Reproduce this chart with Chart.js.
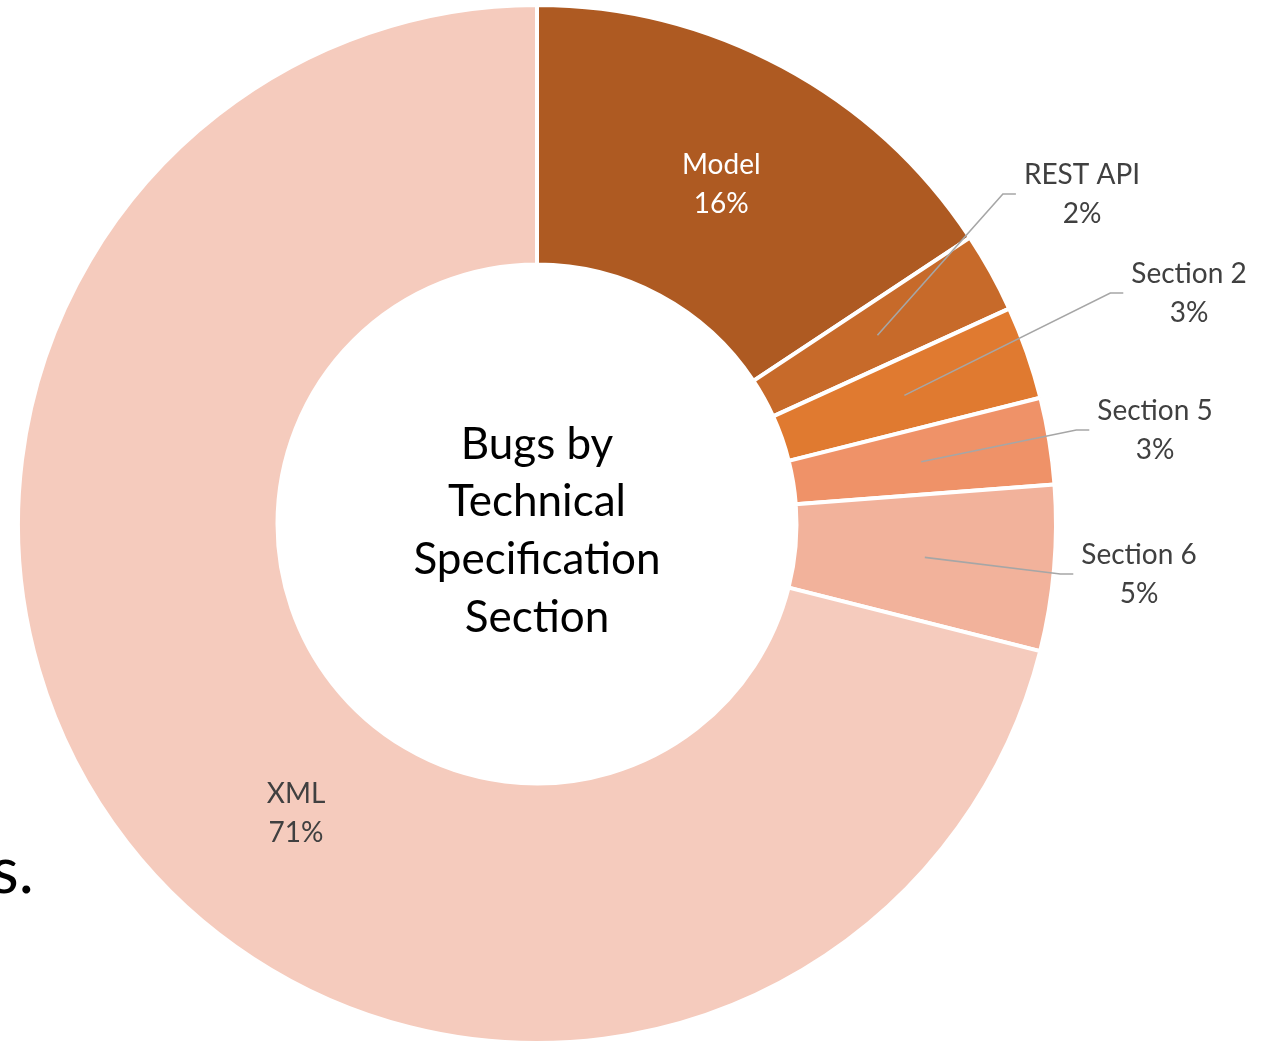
<!DOCTYPE html>
<html>
<head>
<meta charset="utf-8">
<script src="https://cdn.jsdelivr.net/npm/chart.js@4.4.1/dist/chart.umd.min.js"></script>
<style>
  html, body { margin: 0; padding: 0; background: #fff; overflow: hidden; }
  #wrap { position: relative; width: 1271px; height: 1048px; }
  #side { position: absolute; left: -9px; top: 830px; font: 64px Lato, sans-serif; color: #000; }
</style>
</head>
<body>
<div id="wrap">
  <canvas id="chart" width="1271" height="1048"></canvas>
  <div id="side">s.</div>
</div>
<script>
// slice data, clockwise from 12 o'clock
const categories = ['Model', 'REST API', 'Section 2', 'Section 5', 'Section 6', 'XML'];
const shares = [15.7, 2.49, 2.9, 2.7, 5.15, 71.06];
const sliceColors = ['#AE5A22', '#C76A2A', '#E07A30', '#EF9268', '#F2B29B', '#F5CBBD'];
const centerTitle = ['Bugs by', 'Technical', 'Specification', 'Section'];

// label placement, offset from the doughnut centre (null = middle of the ring)
const labelSpots = [
  null,
  { dx: 545, dy: -330, leader: true },
  { dx: 652, dy: -231, leader: true },
  { dx: 618, dy: -94, leader: true },
  { dx: 602, dy: 50, leader: true },
  { dx: -241, dy: 289, leader: false },
];

const LABEL_FONT = '28px Lato, sans-serif';
const TITLE_FONT = '44px Lato, sans-serif';

const sliceLabels = {
  id: 'sliceLabels',
  afterDatasetsDraw(chart) {
    const ctx = chart.ctx;
    const arcs = chart.getDatasetMeta(0).data;
    const total = shares.reduce((a, b) => a + b, 0);
    ctx.save();
    ctx.font = LABEL_FONT;
    ctx.textAlign = 'center';
    ctx.textBaseline = 'middle';

    arcs.forEach((arc, i) => {
      const { x, y, startAngle, endAngle, innerRadius, outerRadius } =
        arc.getProps(['x', 'y', 'startAngle', 'endAngle', 'innerRadius', 'outerRadius'], true);
      const mid = (startAngle + endAngle) / 2;
      const r = (innerRadius + outerRadius) / 2;
      const ax = x + Math.cos(mid) * r;
      const ay = y + Math.sin(mid) * r;
      const spot = labelSpots[i];
      const lx = spot ? x + spot.dx : ax;
      const ly = spot ? y + spot.dy : ay + 3;
      const lines = [categories[i], Math.round(shares[i] / total * 100) + '%'];

      if (spot && spot.leader) {
        const w = Math.max(...lines.map(t => ctx.measureText(t).width));
        const left = lx - w / 2;
        ctx.strokeStyle = '#A6A6A6';
        ctx.lineWidth = 1.6;
        ctx.beginPath();
        ctx.moveTo(ax, ay);
        ctx.lineTo(left - 21, ly);
        ctx.lineTo(left - 8, ly);
        ctx.stroke();
      }

      ctx.fillStyle = i === 0 ? '#FFFFFF' : '#404040';
      ctx.fillText(lines[0], lx, ly - 19.5);
      ctx.fillText(lines[1], lx, ly + 19.5);
    });

    // title in the hole
    const c = arcs[0];
    ctx.font = TITLE_FONT;
    ctx.fillStyle = '#000000';
    centerTitle.forEach((t, k) => {
      ctx.fillText(t, c.x, c.y + 7 + (k - 1.5) * 57.7);
    });
    ctx.restore();
  }
};

new Chart(document.getElementById('chart'), {
  type: 'doughnut',
  data: {
    labels: categories,
    datasets: [{
      data: shares,
      backgroundColor: sliceColors,
      borderColor: '#FFFFFF',
      borderWidth: 4,
    }],
  },
  options: {
    responsive: false,
    animation: false,
    cutout: '50%',
    layout: { padding: { left: 16, right: 213, top: 3, bottom: 3 } },
    plugins: {
      legend: { display: false },
      tooltip: { enabled: false },
    },
  },
  plugins: [sliceLabels],
});
</script>
</body>
</html>
